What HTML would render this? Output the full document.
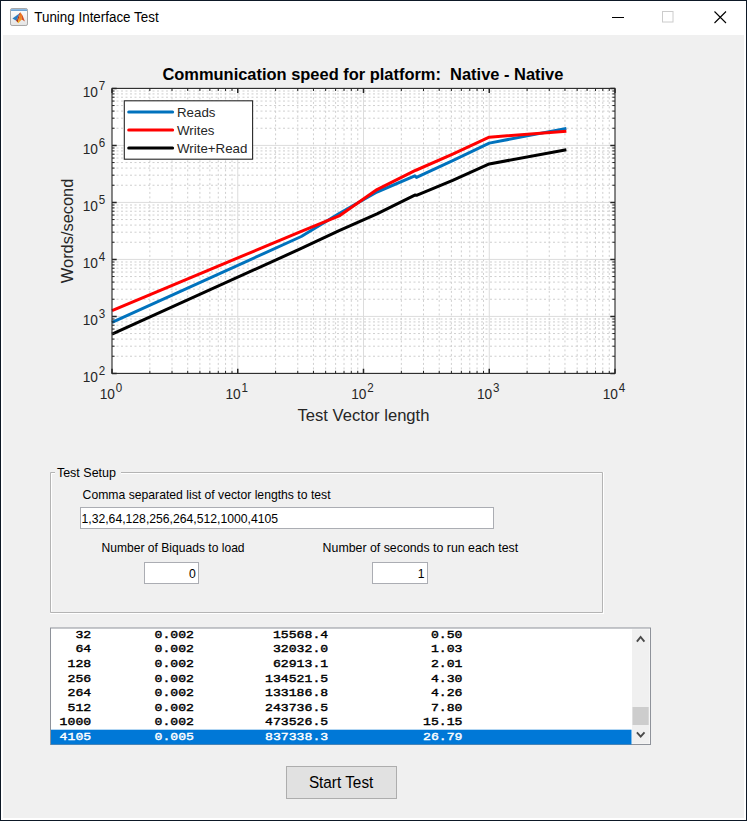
<!DOCTYPE html>
<html><head><meta charset="utf-8"><title>Tuning Interface Test</title>
<style>
html,body{margin:0;padding:0;background:#f0f0f0;width:747px;height:821px;overflow:hidden}
svg{display:block;position:absolute;left:0;top:0}
text{font-family:"Liberation Sans",sans-serif}
.ui{font-size:12.2px;fill:#000}
.mono{font-family:"Liberation Mono",monospace;font-size:13.17px;stroke-width:0.45px;fill:#000}
</style></head><body>
<svg width="747" height="821" viewBox="0 0 747 821">
<!-- window frame -->
<rect x="0" y="0" width="747" height="821" fill="#0d1826"/>
<rect x="1" y="1" width="745" height="819" fill="#ffffff"/>
<rect x="3" y="35" width="741" height="783" fill="#f0f0f0"/>
<!-- title bar -->
<defs>
<linearGradient id="icg" x1="0" y1="0" x2="0" y2="1"><stop offset="0" stop-color="#ffffff"/><stop offset="1" stop-color="#e4e4e4"/></linearGradient>
<linearGradient id="icb" x1="0" y1="0" x2="0" y2="1"><stop offset="0" stop-color="#9cc4e8"/><stop offset="1" stop-color="#5d97cc"/></linearGradient>
<linearGradient id="ico" x1="0" y1="0" x2="0" y2="1"><stop offset="0" stop-color="#e8641e"/><stop offset="0.6" stop-color="#f08c22"/><stop offset="1" stop-color="#f6c02a"/></linearGradient>
</defs>
<rect x="10.5" y="8.5" width="17" height="17" rx="1.6" fill="url(#icg)" stroke="#a8a8a8" stroke-width="1"/>
<rect x="11" y="9" width="16" height="2" fill="url(#icb)"/>
<path d="M12.4 18.4L19.3 13.6L17.2 19.6L15.9 20.6Z" fill="#2a7cc2"/>
<path d="M15.9 20.6L17.2 19.6L19.4 13.3L20.4 12.3L18.2 21.2L17.7 22.6Z" fill="#a8321e"/>
<path d="M17.7 22.6L20.4 12.3L22.1 14.8L21.8 19.5L18.3 23.2Z" fill="url(#ico)"/>
<path d="M20.4 12.3L22.6 15.6L24.9 21.4L21.8 19.5L22.1 14.8Z" fill="#d64e26"/>
<text x="34.3" y="22.4" textLength="124.3" lengthAdjust="spacingAndGlyphs" style="font-size:15.4px;fill:#000">Tuning Interface Test</text>
<path d="M612 17.5H624" stroke="#000" stroke-width="1"/>
<rect x="662.5" y="11.5" width="10.5" height="10.5" fill="none" stroke="#cccccc" stroke-width="1"/>
<path d="M714.5 11.5L726 23M726 11.5L714.5 23" stroke="#000" stroke-width="1.1"/>
<!-- chart -->
<rect x="112.0" y="88.4" width="503.0" height="285.0" fill="#fff"/>
<path d="M149.85 88.4V373.4M172.0 88.4V373.4M187.71 88.4V373.4M199.9 88.4V373.4M209.85 88.4V373.4M218.27 88.4V373.4M225.56 88.4V373.4M232.0 88.4V373.4M275.6 88.4V373.4M297.75 88.4V373.4M313.46 88.4V373.4M325.65 88.4V373.4M335.6 88.4V373.4M344.02 88.4V373.4M351.31 88.4V373.4M357.75 88.4V373.4M401.35 88.4V373.4M423.5 88.4V373.4M439.21 88.4V373.4M451.4 88.4V373.4M461.35 88.4V373.4M469.77 88.4V373.4M477.06 88.4V373.4M483.5 88.4V373.4M527.1 88.4V373.4M549.25 88.4V373.4M564.96 88.4V373.4M577.15 88.4V373.4M587.1 88.4V373.4M595.52 88.4V373.4M602.81 88.4V373.4M609.25 88.4V373.4M112.0 356.24H615.0M112.0 346.2H615.0M112.0 339.08H615.0M112.0 333.56H615.0M112.0 329.05H615.0M112.0 325.23H615.0M112.0 321.92H615.0M112.0 319.01H615.0M112.0 299.24H615.0M112.0 289.2H615.0M112.0 282.08H615.0M112.0 276.56H615.0M112.0 272.05H615.0M112.0 268.23H615.0M112.0 264.92H615.0M112.0 262.01H615.0M112.0 242.24H615.0M112.0 232.2H615.0M112.0 225.08H615.0M112.0 219.56H615.0M112.0 215.05H615.0M112.0 211.23H615.0M112.0 207.92H615.0M112.0 205.01H615.0M112.0 185.24H615.0M112.0 175.2H615.0M112.0 168.08H615.0M112.0 162.56H615.0M112.0 158.05H615.0M112.0 154.23H615.0M112.0 150.92H615.0M112.0 148.01H615.0M112.0 128.24H615.0M112.0 118.2H615.0M112.0 111.08H615.0M112.0 105.56H615.0M112.0 101.05H615.0M112.0 97.23H615.0M112.0 93.92H615.0M112.0 91.01H615.0" stroke="#cfcfcf" stroke-width="1" stroke-dasharray="2 2.5" fill="none"/>
<path d="M237.75 88.4V373.4M363.5 88.4V373.4M489.25 88.4V373.4M112.0 316.4H615.0M112.0 259.4H615.0M112.0 202.4H615.0M112.0 145.4H615.0" stroke="#dcdcdc" stroke-width="1" fill="none"/>
<polyline points="112.00,322.40 301.27,236.50 339.13,213.50 376.98,192.00 414.84,175.80 416.52,177.40 452.69,160.60 489.25,143.10 566.37,128.40" stroke="#0072bd" stroke-width="3.0" fill="none" stroke-linejoin="round"/>
<polyline points="112.00,310.60 301.27,231.30 339.13,215.90 376.98,189.60 414.84,170.70 416.52,170.00 452.69,154.20 489.25,137.20 566.37,131.30" stroke="#ff0000" stroke-width="3.0" fill="none" stroke-linejoin="round"/>
<polyline points="112.00,334.01 301.27,248.44 339.13,230.58 376.98,213.87 414.84,195.06 416.52,195.31 452.69,180.35 489.25,163.91 566.37,149.79" stroke="#000" stroke-width="3.0" fill="none" stroke-linejoin="round"/>
<path d="M149.85 373.4v-2.6M149.85 88.4v2.6M172.0 373.4v-2.6M172.0 88.4v2.6M187.71 373.4v-2.6M187.71 88.4v2.6M199.9 373.4v-2.6M199.9 88.4v2.6M209.85 373.4v-2.6M209.85 88.4v2.6M218.27 373.4v-2.6M218.27 88.4v2.6M225.56 373.4v-2.6M225.56 88.4v2.6M232.0 373.4v-2.6M232.0 88.4v2.6M275.6 373.4v-2.6M275.6 88.4v2.6M297.75 373.4v-2.6M297.75 88.4v2.6M313.46 373.4v-2.6M313.46 88.4v2.6M325.65 373.4v-2.6M325.65 88.4v2.6M335.6 373.4v-2.6M335.6 88.4v2.6M344.02 373.4v-2.6M344.02 88.4v2.6M351.31 373.4v-2.6M351.31 88.4v2.6M357.75 373.4v-2.6M357.75 88.4v2.6M401.35 373.4v-2.6M401.35 88.4v2.6M423.5 373.4v-2.6M423.5 88.4v2.6M439.21 373.4v-2.6M439.21 88.4v2.6M451.4 373.4v-2.6M451.4 88.4v2.6M461.35 373.4v-2.6M461.35 88.4v2.6M469.77 373.4v-2.6M469.77 88.4v2.6M477.06 373.4v-2.6M477.06 88.4v2.6M483.5 373.4v-2.6M483.5 88.4v2.6M527.1 373.4v-2.6M527.1 88.4v2.6M549.25 373.4v-2.6M549.25 88.4v2.6M564.96 373.4v-2.6M564.96 88.4v2.6M577.15 373.4v-2.6M577.15 88.4v2.6M587.1 373.4v-2.6M587.1 88.4v2.6M595.52 373.4v-2.6M595.52 88.4v2.6M602.81 373.4v-2.6M602.81 88.4v2.6M609.25 373.4v-2.6M609.25 88.4v2.6M112.0 356.24h2.6M615.0 356.24h-2.6M112.0 346.2h2.6M615.0 346.2h-2.6M112.0 339.08h2.6M615.0 339.08h-2.6M112.0 333.56h2.6M615.0 333.56h-2.6M112.0 329.05h2.6M615.0 329.05h-2.6M112.0 325.23h2.6M615.0 325.23h-2.6M112.0 321.92h2.6M615.0 321.92h-2.6M112.0 319.01h2.6M615.0 319.01h-2.6M112.0 299.24h2.6M615.0 299.24h-2.6M112.0 289.2h2.6M615.0 289.2h-2.6M112.0 282.08h2.6M615.0 282.08h-2.6M112.0 276.56h2.6M615.0 276.56h-2.6M112.0 272.05h2.6M615.0 272.05h-2.6M112.0 268.23h2.6M615.0 268.23h-2.6M112.0 264.92h2.6M615.0 264.92h-2.6M112.0 262.01h2.6M615.0 262.01h-2.6M112.0 242.24h2.6M615.0 242.24h-2.6M112.0 232.2h2.6M615.0 232.2h-2.6M112.0 225.08h2.6M615.0 225.08h-2.6M112.0 219.56h2.6M615.0 219.56h-2.6M112.0 215.05h2.6M615.0 215.05h-2.6M112.0 211.23h2.6M615.0 211.23h-2.6M112.0 207.92h2.6M615.0 207.92h-2.6M112.0 205.01h2.6M615.0 205.01h-2.6M112.0 185.24h2.6M615.0 185.24h-2.6M112.0 175.2h2.6M615.0 175.2h-2.6M112.0 168.08h2.6M615.0 168.08h-2.6M112.0 162.56h2.6M615.0 162.56h-2.6M112.0 158.05h2.6M615.0 158.05h-2.6M112.0 154.23h2.6M615.0 154.23h-2.6M112.0 150.92h2.6M615.0 150.92h-2.6M112.0 148.01h2.6M615.0 148.01h-2.6M112.0 128.24h2.6M615.0 128.24h-2.6M112.0 118.2h2.6M615.0 118.2h-2.6M112.0 111.08h2.6M615.0 111.08h-2.6M112.0 105.56h2.6M615.0 105.56h-2.6M112.0 101.05h2.6M615.0 101.05h-2.6M112.0 97.23h2.6M615.0 97.23h-2.6M112.0 93.92h2.6M615.0 93.92h-2.6M112.0 91.01h2.6M615.0 91.01h-2.6" stroke="#262626" stroke-width="1" fill="none"/>
<path d="M112.0 373.4v-4.7M112.0 88.4v4.7M237.75 373.4v-4.7M237.75 88.4v4.7M363.5 373.4v-4.7M363.5 88.4v4.7M489.25 373.4v-4.7M489.25 88.4v4.7M615.0 373.4v-4.7M615.0 88.4v4.7M112.0 373.4h4.7M615.0 373.4h-4.7M112.0 316.4h4.7M615.0 316.4h-4.7M112.0 259.4h4.7M615.0 259.4h-4.7M112.0 202.4h4.7M615.0 202.4h-4.7M112.0 145.4h4.7M615.0 145.4h-4.7M112.0 88.4h4.7M615.0 88.4h-4.7" stroke="#262626" stroke-width="1.5" fill="none"/>
<rect x="112.0" y="88.4" width="503.0" height="285.0" fill="none" stroke="#262626" stroke-width="1.1"/>
<g font-family="Liberation Sans" font-size="14.9" fill="#262626"><text transform="translate(111.00 399) scale(0.92 1)" text-anchor="middle">10<tspan dx="0.9" dy="-7" font-size="12.6">0</tspan></text><text transform="translate(236.75 399) scale(0.92 1)" text-anchor="middle">10<tspan dx="0.9" dy="-7" font-size="12.6">1</tspan></text><text transform="translate(362.50 399) scale(0.92 1)" text-anchor="middle">10<tspan dx="0.9" dy="-7" font-size="12.6">2</tspan></text><text transform="translate(488.25 399) scale(0.92 1)" text-anchor="middle">10<tspan dx="0.9" dy="-7" font-size="12.6">3</tspan></text><text transform="translate(614.00 399) scale(0.92 1)" text-anchor="middle">10<tspan dx="0.9" dy="-7" font-size="12.6">4</tspan></text><text transform="translate(105.2 381.60) scale(0.92 1)" text-anchor="end">10<tspan dx="0.9" dy="-7.1" font-size="12.6">2</tspan></text><text transform="translate(105.2 324.60) scale(0.92 1)" text-anchor="end">10<tspan dx="0.9" dy="-7.1" font-size="12.6">3</tspan></text><text transform="translate(105.2 267.60) scale(0.92 1)" text-anchor="end">10<tspan dx="0.9" dy="-7.1" font-size="12.6">4</tspan></text><text transform="translate(105.2 210.60) scale(0.92 1)" text-anchor="end">10<tspan dx="0.9" dy="-7.1" font-size="12.6">5</tspan></text><text transform="translate(105.2 153.60) scale(0.92 1)" text-anchor="end">10<tspan dx="0.9" dy="-7.1" font-size="12.6">6</tspan></text><text transform="translate(105.2 96.60) scale(0.92 1)" text-anchor="end">10<tspan dx="0.9" dy="-7.1" font-size="12.6">7</tspan></text></g>
<text x="363.50" y="420.6" text-anchor="middle" font-family="Liberation Sans" font-size="16.6" fill="#262626">Test Vector length</text>
<text transform="translate(72.9 230.90) rotate(-90)" text-anchor="middle" font-family="Liberation Sans" font-size="16.4" fill="#262626">Words/second</text>
<text x="362.90" y="79.8" text-anchor="middle" font-family="Liberation Sans" font-weight="bold" font-size="16.46" fill="#000" xml:space="preserve">Communication speed for platform:  Native - Native</text>
<rect x="124.3" y="100.8" width="128.3" height="58.4" fill="#fff" stroke="#262626" stroke-width="1.1"/>
<path d="M128.7 112.0H172.6" stroke="#0072bd" stroke-width="3.0" stroke-linecap="round"/>
<text x="177" y="116.9" font-family="Liberation Sans" font-size="13.3" fill="#262626">Reads</text>
<path d="M128.7 130.0H172.6" stroke="#ff0000" stroke-width="3.0" stroke-linecap="round"/>
<text x="177" y="134.9" font-family="Liberation Sans" font-size="13.3" fill="#262626">Writes</text>
<path d="M128.7 148.0H172.6" stroke="#000" stroke-width="3.0" stroke-linecap="round"/>
<text x="177" y="152.9" font-family="Liberation Sans" font-size="13.3" fill="#262626">Write+Read</text>
<!-- panel -->
<path d="M50.5 472.5H602.5V612.5H50.5Z" fill="none" stroke="#b4b4b4" stroke-width="1"/>
<path d="M51.5 473.5H601.5M51.5 473.5V611.5M50 613.5H604M603.5 472V614" fill="none" stroke="#ffffff" stroke-width="1"/>
<rect x="55" y="466" width="66" height="12" fill="#f0f0f0"/>
<text class="ui" x="56.9" y="477.4" textLength="59.1" lengthAdjust="spacingAndGlyphs">Test Setup</text>
<text class="ui" x="82.6" y="498.8">Comma separated list of vector lengths to test</text>
<rect x="80.5" y="507.5" width="413" height="21" fill="#fff" stroke="#abadb3" stroke-width="1"/>
<text class="ui" x="81.5" y="522.5">1,32,64,128,256,264,512,1000,4105</text>
<text class="ui" x="101.5" y="552.2" textLength="143.1" lengthAdjust="spacingAndGlyphs">Number of Biquads to load</text>
<text class="ui" x="322.6" y="552.2" textLength="195.6" lengthAdjust="spacingAndGlyphs">Number of seconds to run each test</text>
<rect x="144.5" y="562.5" width="54" height="21" fill="#fff" stroke="#abadb3" stroke-width="1"/>
<text class="ui" x="195.8" y="577.7" text-anchor="end">0</text>
<rect x="372.5" y="562.5" width="55" height="21" fill="#fff" stroke="#abadb3" stroke-width="1"/>
<text class="ui" x="424.6" y="577.7" text-anchor="end">1</text>
<!-- listbox -->
<rect x="50.5" y="628" width="600" height="116.5" fill="#fff" stroke="#8e929a" stroke-width="1"/>
<rect x="51" y="729.7" width="580.5" height="14.80" fill="#0078d7"/>
<rect x="632" y="629.3" width="17.6" height="114.4" fill="#f0f0f0"/>
<rect x="632.5" y="707" width="16.2" height="18" fill="#cdcdcd"/>
<path d="M636.9 641.6L640.6 637.0L644.4 641.6" fill="none" stroke="#4a4a4a" stroke-width="1.9"/>
<path d="M636.9 732.4L640.7 736.6L644.5 732.4" fill="none" stroke="#4a4a4a" stroke-width="1.9"/>
<text class="mono" transform="translate(91.2 637.85) scale(1 0.885)" text-anchor="end" style="fill:#000;stroke:#000">32</text>
<text class="mono" transform="translate(194.0 637.85) scale(1 0.885)" text-anchor="end" style="fill:#000;stroke:#000">0.002</text>
<text class="mono" transform="translate(328.2 637.85) scale(1 0.885)" text-anchor="end" style="fill:#000;stroke:#000">15568.4</text>
<text class="mono" transform="translate(462.5 637.85) scale(1 0.885)" text-anchor="end" style="fill:#000;stroke:#000">0.50</text>
<text class="mono" transform="translate(91.2 652.40) scale(1 0.885)" text-anchor="end" style="fill:#000;stroke:#000">64</text>
<text class="mono" transform="translate(194.0 652.40) scale(1 0.885)" text-anchor="end" style="fill:#000;stroke:#000">0.002</text>
<text class="mono" transform="translate(328.2 652.40) scale(1 0.885)" text-anchor="end" style="fill:#000;stroke:#000">32032.0</text>
<text class="mono" transform="translate(462.5 652.40) scale(1 0.885)" text-anchor="end" style="fill:#000;stroke:#000">1.03</text>
<text class="mono" transform="translate(91.2 666.95) scale(1 0.885)" text-anchor="end" style="fill:#000;stroke:#000">128</text>
<text class="mono" transform="translate(194.0 666.95) scale(1 0.885)" text-anchor="end" style="fill:#000;stroke:#000">0.002</text>
<text class="mono" transform="translate(328.2 666.95) scale(1 0.885)" text-anchor="end" style="fill:#000;stroke:#000">62913.1</text>
<text class="mono" transform="translate(462.5 666.95) scale(1 0.885)" text-anchor="end" style="fill:#000;stroke:#000">2.01</text>
<text class="mono" transform="translate(91.2 681.50) scale(1 0.885)" text-anchor="end" style="fill:#000;stroke:#000">256</text>
<text class="mono" transform="translate(194.0 681.50) scale(1 0.885)" text-anchor="end" style="fill:#000;stroke:#000">0.002</text>
<text class="mono" transform="translate(328.2 681.50) scale(1 0.885)" text-anchor="end" style="fill:#000;stroke:#000">134521.5</text>
<text class="mono" transform="translate(462.5 681.50) scale(1 0.885)" text-anchor="end" style="fill:#000;stroke:#000">4.30</text>
<text class="mono" transform="translate(91.2 696.05) scale(1 0.885)" text-anchor="end" style="fill:#000;stroke:#000">264</text>
<text class="mono" transform="translate(194.0 696.05) scale(1 0.885)" text-anchor="end" style="fill:#000;stroke:#000">0.002</text>
<text class="mono" transform="translate(328.2 696.05) scale(1 0.885)" text-anchor="end" style="fill:#000;stroke:#000">133186.8</text>
<text class="mono" transform="translate(462.5 696.05) scale(1 0.885)" text-anchor="end" style="fill:#000;stroke:#000">4.26</text>
<text class="mono" transform="translate(91.2 710.60) scale(1 0.885)" text-anchor="end" style="fill:#000;stroke:#000">512</text>
<text class="mono" transform="translate(194.0 710.60) scale(1 0.885)" text-anchor="end" style="fill:#000;stroke:#000">0.002</text>
<text class="mono" transform="translate(328.2 710.60) scale(1 0.885)" text-anchor="end" style="fill:#000;stroke:#000">243736.5</text>
<text class="mono" transform="translate(462.5 710.60) scale(1 0.885)" text-anchor="end" style="fill:#000;stroke:#000">7.80</text>
<text class="mono" transform="translate(91.2 725.15) scale(1 0.885)" text-anchor="end" style="fill:#000;stroke:#000">1000</text>
<text class="mono" transform="translate(194.0 725.15) scale(1 0.885)" text-anchor="end" style="fill:#000;stroke:#000">0.002</text>
<text class="mono" transform="translate(328.2 725.15) scale(1 0.885)" text-anchor="end" style="fill:#000;stroke:#000">473526.5</text>
<text class="mono" transform="translate(462.5 725.15) scale(1 0.885)" text-anchor="end" style="fill:#000;stroke:#000">15.15</text>
<text class="mono" transform="translate(91.2 739.70) scale(1 0.885)" text-anchor="end" style="fill:#fff;stroke:#fff">4105</text>
<text class="mono" transform="translate(194.0 739.70) scale(1 0.885)" text-anchor="end" style="fill:#fff;stroke:#fff">0.005</text>
<text class="mono" transform="translate(328.2 739.70) scale(1 0.885)" text-anchor="end" style="fill:#fff;stroke:#fff">837338.3</text>
<text class="mono" transform="translate(462.5 739.70) scale(1 0.885)" text-anchor="end" style="fill:#fff;stroke:#fff">26.79</text>
<!-- button -->
<rect x="286.5" y="766.5" width="110" height="32" fill="#e1e1e1" stroke="#adadad" stroke-width="1"/>
<text x="308.9" y="788.3" textLength="64.4" lengthAdjust="spacingAndGlyphs" style="font-size:16.8px;fill:#000">Start Test</text>
</svg>
</body></html>
